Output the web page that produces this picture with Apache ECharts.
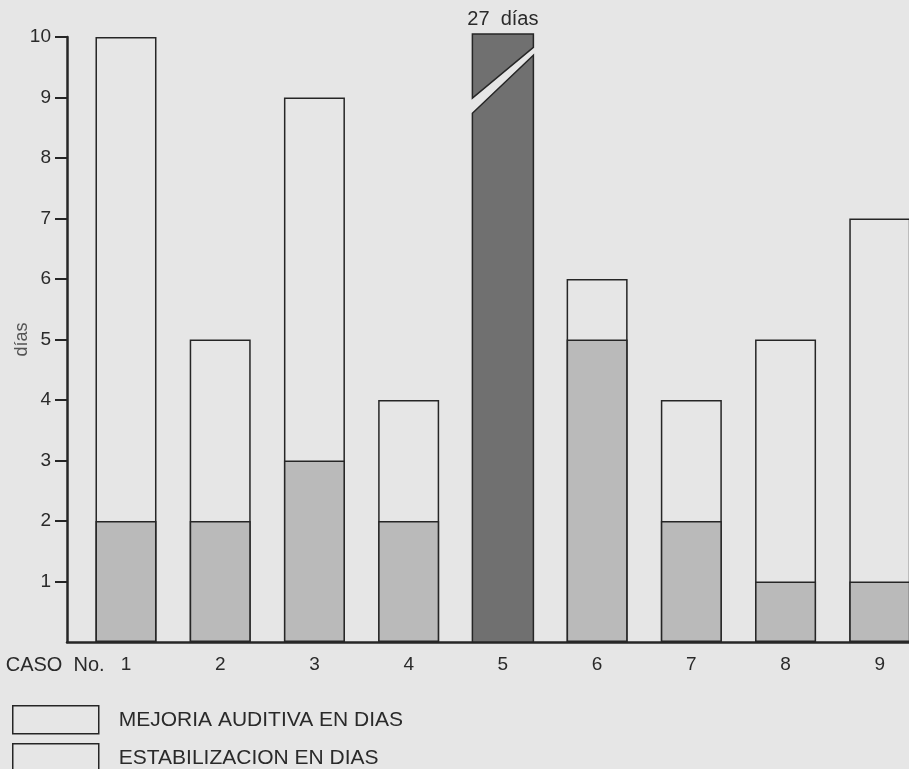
<!DOCTYPE html>
<html>
<head>
<meta charset="utf-8">
<title>Mejoria auditiva y estabilizacion</title>
<script src="https://cdn.jsdelivr.net/npm/echarts@6/dist/echarts.min.js"></script>
<style>
  html, body { margin: 0; padding: 0; background: #e6e6e6; }
  #chart { width: 909px; height: 769px; }
</style>
</head>
<body>
<div id="chart"></div>
<script>
// datos por caso
const casos = [1, 2, 3, 4, 5, 6, 7, 8, 9];
const etiquetasCaso = ['CASO No. 1', '2', '3', '4', '5', '6', '7', '8', '9'];
const estabilizacion = [2, 2, 3, 2, null, 5, 2, 1, 1];
const mejoria = [8, 3, 6, 2, null, 1, 2, 4, 6];
const caso5 = [[5, 27]]; // barra cortada, 27 dias
const ticksY = [1, 2, 3, 4, 5, 6, 7, 8, 9, 10];

const fondo = '#e6e6e6';
const gris = '#bababa';
const oscuro = '#707070';
const linea = '#262626';
const texto = '#2a2a2a';
const fuente = '"Liberation Sans", Arial, sans-serif';
const anchoBarra = 61;

const chart = echarts.init(document.getElementById('chart'));

// la barra blanca va de 0 al total, la gris encima tapa la parte de estabilizacion
const totalDias = casos.map((c, i) => estabilizacion[i] == null ? null : estabilizacion[i] + mejoria[i]);
const pares = (vals) => casos.map((c, i) => [c, vals[i]]);

const leyenda = (nombre, top) => ({
  data: [nombre],
  orient: 'vertical',
  left: 12,
  top: top,
  padding: 0,
  itemWidth: 86,
  itemHeight: 28,
  icon: 'rect',
  selectedMode: false,
  itemStyle: { color: fondo, borderColor: linea, borderWidth: 1.5 },
  textStyle: { fontSize: 21, color: texto, padding: [0, 0, 0, 15], fontFamily: fuente }
});

chart.setOption({
  backgroundColor: fondo,
  animation: false,
  textStyle: { fontFamily: fuente },
  grid: { left: 67, right: 0, top: 37, bottom: 127, outerBoundsMode: 'none' },
  legend: [
    leyenda('MEJORIA AUDITIVA EN DIAS', 705),
    leyenda('ESTABILIZACION EN DIAS', 743)
  ],
  xAxis: {
    type: 'value',
    min: 0.374,
    max: 9.31,
    splitLine: { show: false },
    axisLine: { show: true, lineStyle: { color: linea, width: 2.5 } },
    axisTick: { show: false },
    axisLabel: {
      customValues: casos,
      margin: 13,
      fontSize: 19,
      color: texto,
      formatter: (v) => v === 1 ? '{a|CASO  No.  }1{b|}' : etiquetasCaso[v - 1],
      rich: {
        a: { width: 120, align: 'right', fontSize: 20, color: texto, fontFamily: fuente },
        b: { width: 120, fontSize: 19 }
      }
    }
  },
  yAxis: {
    type: 'value',
    min: 0,
    max: 10,
    name: 'días',
    nameLocation: 'middle',
    nameGap: 36,
    nameMoveOverlap: false,
    nameTextStyle: { fontSize: 18, color: '#555', fontFamily: fuente },
    splitLine: { show: false },
    axisLine: { show: true, lineStyle: { color: linea, width: 2.5 } },
    axisTick: { show: true, customValues: ticksY, length: 12, lineStyle: { color: linea, width: 2 } },
    axisLabel: { customValues: ticksY, margin: 16, fontSize: 19, color: texto }
  },
  series: [
    {
      name: 'MEJORIA AUDITIVA EN DIAS',
      type: 'bar',
      barWidth: anchoBarra,
      barGap: '-100%',
      data: pares(totalDias),
      itemStyle: { color: fondo, borderColor: linea, borderWidth: 1.5 }
    },
    {
      name: 'ESTABILIZACION EN DIAS',
      type: 'bar',
      barWidth: anchoBarra,
      barGap: '-100%',
      z: 3,
      data: pares(estabilizacion),
      itemStyle: { color: gris, borderColor: linea, borderWidth: 1.5 }
    },
    {
      name: 'caso 5',
      type: 'custom',
      clip: false,
      data: caso5,
      renderItem: function (params, api) {
        const x = api.value(0);
        const half = anchoBarra / 2;
        const base = api.coord([x, 0]);
        const yv = (v) => api.coord([x, v])[1];
        const top = yv(10) - 3;
        const xl = base[0] - half, xr = base[0] + half;
        const estilo = { fill: oscuro, stroke: linea, lineWidth: 1.5 };
        return {
          type: 'group',
          children: [
            { type: 'polygon', shape: { points: [[xl, base[1]], [xr, base[1]], [xr, yv(9.7)], [xl, yv(8.74)]] }, style: estilo },
            { type: 'polygon', shape: { points: [[xl, top], [xr, top], [xr, yv(9.83)], [xl, yv(8.99)]] }, style: estilo },
            { type: 'text', style: { text: api.value(1) + '  días', x: base[0], y: top - 15, align: 'center', verticalAlign: 'middle', font: '20px ' + fuente, fill: texto } }
          ]
        };
      }
    }
  ]
});
</script>
</body>
</html>
